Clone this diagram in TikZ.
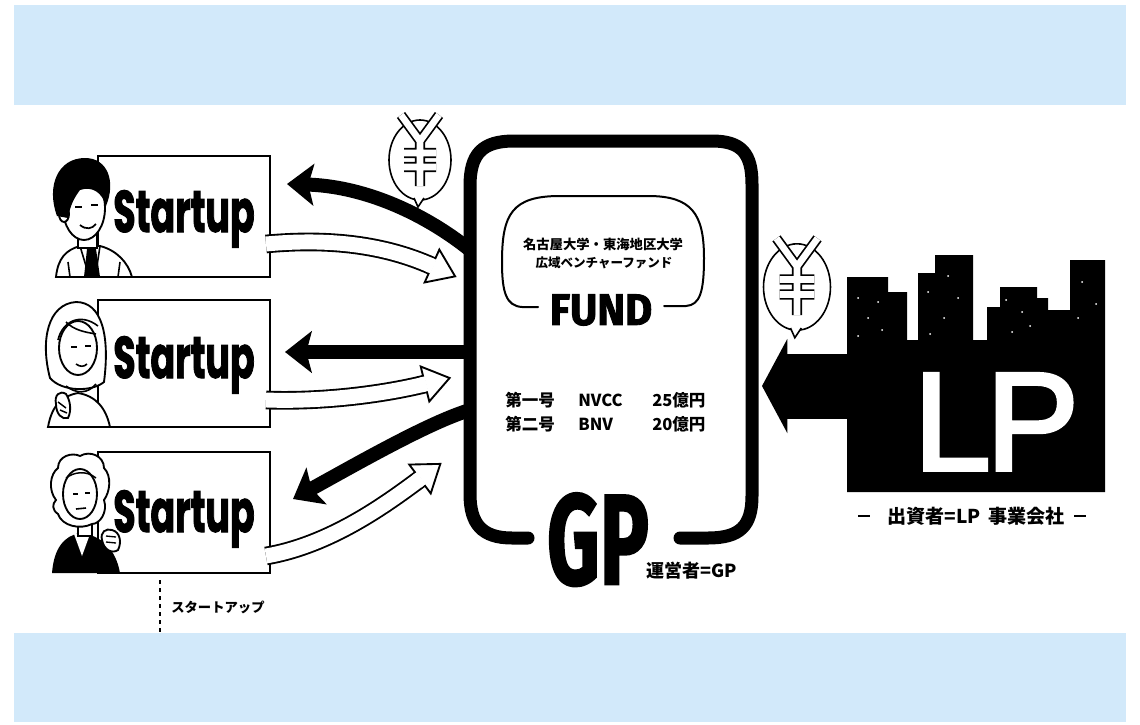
\documentclass[tikz,border=0pt]{standalone}
\usepackage{fontspec}
\usetikzlibrary{arrows.meta,calc}
\newfontfamily\jpfont{Noto Sans CJK JP}
\newfontfamily\roundfont{Poppins}[FakeBold=2]
\newfontfamily\gothfont{Fira Sans}[FakeBold=2]
\newfontfamily\lpfont{Liberation Sans}[FakeBold=2.5]
\definecolor{band}{HTML}{D2E9FA}

% hollow double-walled arrow: start, control 1, control 2, base of the head
\newcommand\hollowarrow[4]{%
  \draw[black,line width=14pt] (#1) .. controls (#2) and (#3) .. (#4);
  \draw[white,line width=11.2pt] (#1) .. controls (#2) and (#3) .. (#4);
  \filldraw[fill=white,draw=black,line width=1.4pt,line join=miter]
    ($(#4)!13.5pt!90:(#3)$) -- ($(#4)!-19pt!(#3)$) -- ($(#4)!13.5pt!-90:(#3)$) -- cycle;
  \draw[white,line width=11.2pt] ($(#4)!3pt!(#3)$) -- ($(#4)!-1.2pt!(#3)$);
}

\begin{document}
\begin{tikzpicture}[x=0.75pt,y=-0.75pt,
  startbox/.style={draw=black,line width=1.9pt,fill=white,minimum width=129pt,inner sep=0pt},
  startlabel/.style={inner sep=0pt,anchor=base,font=\roundfont\bfseries\fontsize{44pt}{44pt}\selectfont},
  jp/.style={inner sep=0pt,font=\jpfont\bfseries\fontsize{#1}{#1}\selectfont},
  solidarrow/.style={line width=10.5pt,-{Stealth[length=20pt,width=31pt,inset=4pt]}},
  outline/.style={draw=black,line width=1.4pt,fill=white},
  yenbubble/.pic={
    \filldraw[fill=white,draw=black,line width=1.2pt] (0,0) ellipse [x radius=31, y radius=40];
    \filldraw[fill=white,draw=black,line width=1.2pt] (-6,38) -- (-2,47) -- (4,38);
    \foreach \w/\c in {7.6pt/black,5pt/white}
      \draw[line width=\w,\c,line cap=square,line join=miter]
        (-19,-45) -- (0,-19) -- (19,-45) (0,-19) -- (0,26)
        (-16,-7) -- (16,-7) (-16,7) -- (16,7);
  }
]
\useasboundingbox (0,0) rectangle (1140,725);
\fill[white] (0,0) rectangle (1140,725);
\fill[band] (14,5) rectangle (1126,105);
\fill[band] (14,633) rectangle (1126,722);

% ---------- startup boxes ----------
\node[startbox,minimum height=90.75pt] (s1) at (184,216.5) {};
\node[startbox,minimum height=95.25pt] (s2) at (184,363.5) {};
\node[startbox,minimum height=90.75pt] (s3) at (184,512.5) {};
\node[startlabel] (s1t) at (184,232) {\scalebox{0.62}[1]{Startup}};
\node[startlabel] (s2t) at (184,378) {\scalebox{0.62}[1]{Startup}};
\node[startlabel] (s3t) at (184,532) {\scalebox{0.62}[1]{Startup}};

% ---------- person 1: dark hair, suit and tie ----------
\filldraw[outline] (56,277) .. controls (58,258) and (66,250) .. (80,246) -- (100,246)
  .. controls (116,250) and (128,262) .. (132,277) -- cycle;
\fill[black] (87,249) -- (96,249) -- (100,277) -- (84,277) -- cycle;
\draw[line width=1.2pt] (80,246) -- (86,266) (100,246) -- (97,266);
\draw[line width=1.2pt] (68,262) -- (70,277) (120,262) -- (118,277);
\filldraw[outline] (78,230) -- (78,248) -- (97,248) -- (97,230) -- cycle;
\filldraw[outline] (84,208) ellipse [x radius=21, y radius=32];
\filldraw[outline] (64,214) ellipse [x radius=5, y radius=8];
\fill[black] (57,216) .. controls (46,186) and (58,158) .. (85,158)
  .. controls (108,158) and (116,182) .. (106,206)
  .. controls (102,192) and (92,186) .. (80,190)
  .. controls (74,198) and (70,206) .. (68,218) -- cycle;
\draw[line width=1.3pt] (75,207) -- (82,207) (91,205) -- (98,205);
\draw[line width=1.3pt] (80,225) .. controls (86,230) and (92,229) .. (96,224);

% ---------- person 2: light hair, hand at chin ----------
\filldraw[outline] (48,427) .. controls (52,405) and (62,396) .. (78,393)
  .. controls (96,396) and (106,408) .. (110,427) -- cycle;
\filldraw[outline] (50,378) .. controls (40,340) and (48,304) .. (76,302)
  .. controls (102,302) and (110,336) .. (104,382)
  .. controls (92,392) and (62,392) .. (50,378) -- cycle;
\filldraw[outline] (78,348) ellipse [x radius=19, y radius=27];
\draw[line width=1.2pt] (58,340) .. controls (62,322) and (80,312) .. (98,326)
  (66,322) .. controls (74,330) and (84,332) .. (96,334);
\draw[line width=1.2pt] (71,347) -- (77,347) (85,346) -- (91,346);
\draw[line width=1.2pt] (76,364) .. controls (80,367) and (84,367) .. (87,364);
\draw[line width=1.2pt] (66,386) .. controls (76,394) and (88,394) .. (96,384);
\filldraw[outline] (56,404) .. controls (54,395) and (60,390) .. (66,394)
  .. controls (70,400) and (72,410) .. (68,418) .. controls (62,420) and (56,414) .. (56,404) -- cycle;
\draw[line width=1.1pt] (58,402) -- (66,408) (60,410) -- (67,413);

% ---------- person 3: white curly hair, dark suit ----------
\fill[black] (52,573) .. controls (54,548) and (64,536) .. (80,533)
  .. controls (102,535) and (116,550) .. (120,573) -- cycle;
\fill[white] (74,534) -- (82,556) -- (90,534) -- cycle;
\filldraw[outline] (78,520) -- (78,536) -- (92,536) -- (92,520) -- cycle;
\filldraw[outline] (56,500) .. controls (48,490) and (50,474) .. (58,468)
  .. controls (58,456) and (72,452) .. (80,456)
  .. controls (90,450) and (104,456) .. (104,468)
  .. controls (112,476) and (110,492) .. (104,500)
  .. controls (108,512) and (100,524) .. (92,524)
  .. controls (80,530) and (62,526) .. (58,514)
  .. controls (52,510) and (52,504) .. (56,500) -- cycle;
\filldraw[outline] (80,494) ellipse [x radius=17, y radius=25];
\draw[line width=1.1pt] (66,478) .. controls (74,472) and (86,470) .. (96,478);
\draw[line width=1.3pt] (73,494) -- (78,494) (85,493) -- (90,493);
\draw[line width=1.2pt] (76,509) -- (86,508);
\filldraw[outline] (102,540) .. controls (100,532) and (106,528) .. (112,530)
  .. controls (120,532) and (122,542) .. (118,550) .. controls (112,554) and (104,550) .. (102,540) -- cycle;
\draw[line width=1pt] (106,536) -- (116,537) (106,542) -- (116,543);

% caption below the startups
\draw[line width=0.9pt,dash pattern=on 3pt off 3pt] (160,580) -- (160,633);
\node[jp=10pt,anchor=west] (caption) at (171,607) {スタートアップ};

% ---------- GP box ----------
\draw[line width=9.75pt,line cap=round]
  (528,538) -- (512,538) .. controls (482,538) and (470,524) .. (470,494)
  -- (470,186) .. controls (470,154) and (482,141) .. (514,141)
  -- (712,141) .. controls (742,141) and (752,154) .. (752,184)
  -- (752,496) .. controls (752,526) and (740,538) .. (708,538) -- (680,538);
\node[inner sep=0pt,anchor=base,font=\gothfont\bfseries\fontsize{96pt}{96pt}\selectfont]
  (gp) at (598,584) {\scalebox{0.64}[1]{GP}};
\node[jp=13.5pt,anchor=west] (gprole) at (646,571) {運営者=GP};

% fund bubble
\draw[line width=1.5pt,line cap=round]
  (538,307) -- (522,307) .. controls (506,306) and (502,292) .. (502,262)
  .. controls (502,214) and (512,196) .. (560,196) -- (648,196)
  .. controls (692,196) and (704,214) .. (704,258)
  .. controls (704,292) and (700,305) .. (686,306) -- (664,306);
\node[jp=10pt] (fund1) at (603,244) {名古屋大学・東海地区大学};
\node[jp=9.4pt] (fund2) at (604,263) {広域ベンチャーファンド};
\node[inner sep=0pt,font=\gothfont\bfseries\fontsize{33pt}{33pt}\selectfont]
  (fund) at (601,310) {\scalebox{0.95}[1]{FUND}};

\node[jp=12.4pt,anchor=west] (r1a) at (505,400) {第一号};
\node[jp=12.4pt,anchor=west] (r1b) at (578,400) {NVCC};
\node[jp=12.4pt,anchor=west] (r1c) at (652,400) {25億円};
\node[jp=12.4pt,anchor=west] (r2a) at (505,424) {第二号};
\node[jp=12.4pt,anchor=west] (r2b) at (578,424) {BNV};
\node[jp=12.4pt,anchor=west] (r2c) at (652,424) {20億円};

% ---------- money flows to and from the startups ----------
\coordinate (g1) at (470,250);
\coordinate (g2) at (470,352);
\coordinate (g3) at (470,410);
\coordinate (t1) at (287,184);
\coordinate (t2) at (285,352);
\coordinate (t3) at (293,499);
\draw[solidarrow] (g1) .. controls (420,210) and (360,186) .. (t1);
\draw[solidarrow] (g2) -- (t2);
\draw[solidarrow] (g3) .. controls (430,422) and (360,462) .. (t3);

\coordinate (o1) at (266,244);
\coordinate (o2) at (266,400);
\coordinate (o3) at (266,556);
\coordinate (b1) at (432,266);
\coordinate (b2) at (425,384);
\coordinate (b3) at (420,479);
\hollowarrow{o1}{330,238}{385,245}{b1}
\hollowarrow{o2}{320,402}{380,395}{b2}
\hollowarrow{o3}{330,545}{385,505}{b3}

\pic at (420,160) {yenbubble};

% ---------- LP: investors' skyline ----------
\fill[black] (847,492) -- (847,277) -- (888,277) -- (888,292) -- (907,292) -- (907,340)
  -- (918,340) -- (918,273) -- (935,273) -- (935,255) -- (973,255) -- (973,340)
  -- (987,340) -- (987,307) -- (1000,307) -- (1000,287) -- (1037,287) -- (1037,298)
  -- (1048,298) -- (1048,310) -- (1070,310) -- (1070,260) -- (1105,260) -- (1105,492) -- cycle;
\foreach \p in {(858,298),(878,302),(868,318),(858,336),(882,330),(928,292),(948,276),
  (958,298),(944,318),(930,334),(1006,300),(1022,312),(1030,326),(1012,332),(1082,282),(1096,304),(1078,318)}
  \fill[white] \p circle [radius=1];
\node[inner sep=0pt,anchor=base west,text=white,font=\lpfont\fontsize{105pt}{105pt}\selectfont]
  (lp) at (913,470) {L\kern-4pt P};
\coordinate (lpout) at (850,386);
\coordinate (lpin) at (762,386);
\draw[line width=48.75pt,-{Triangle[length=19pt,width=70pt]}] (lpout) -- (lpin);
\pic[scale=1.08] at (797,287) {yenbubble};

\node[jp=14.3pt] (lprole) at (976,516) {出資者=LP\hspace{6pt}事業会社};
\draw[line width=0.8pt] (858,516) -- (870,516) (1074,516) -- (1086,516);
\end{tikzpicture}
\end{document}
